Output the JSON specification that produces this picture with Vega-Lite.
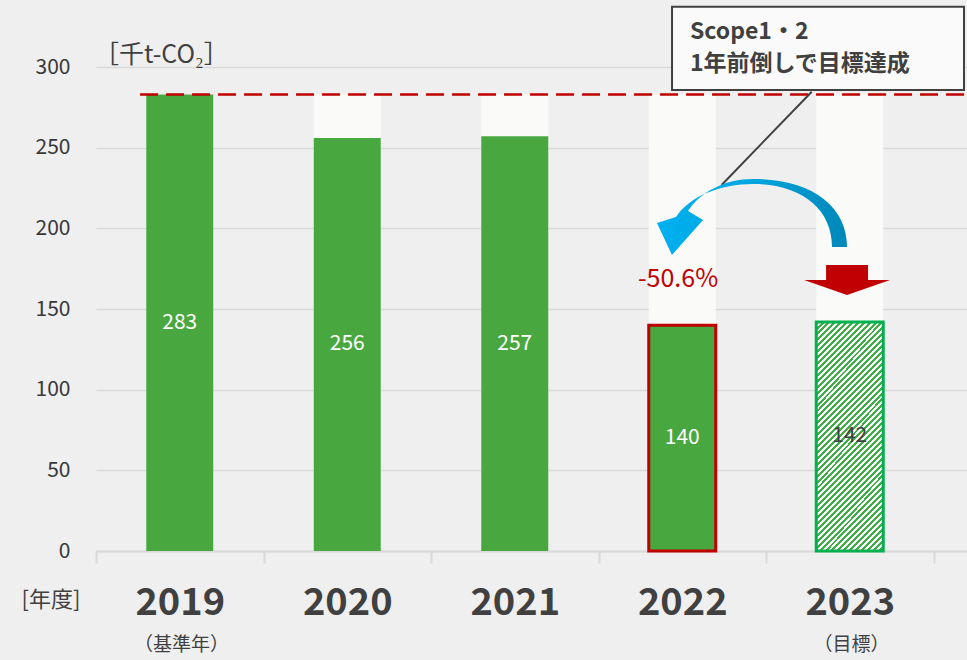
{
  "$schema": "https://vega.github.io/schema/vega-lite/v6.json",
  "width": 871,
  "height": 484,
  "autosize": {"type": "none"},
  "padding": {"left": 96, "top": 67, "right": 0, "bottom": 109},
  "background": "#efefef",
  "config": {"view": {"stroke": null}, "font": "Noto Sans CJK JP"},
  "datasets": {
    "co2": [
      {"year": "2019", "value": 283},
      {"year": "2020", "value": 256},
      {"year": "2021", "value": 257},
      {"year": "2022", "value": 140},
      {"year": "2023", "value": 142}
    ]
  },
  "layer": [
    {
      "data": {"name": "co2"},
      "encoding": {
        "x": {
          "field": "year", "type": "nominal", "sort": null,
          "scale": {"paddingInner": 0, "paddingOuter": 0.1, "align": 0},
          "axis": {
            "title": null, "labelAngle": 0, "labelFontSize": 38, "labelFontWeight": "bold",
            "labelColor": "#404040", "tickBand": "extent", "tickColor": "#d9d9d9", "tickSize": 12,
            "tickWidth": 2, "domainColor": "#d9d9d9", "domainWidth": 2, "labelPadding": 21, "grid": false
          }
        }
      },
      "layer": [
        {
          "mark": {"type": "bar", "width": {"band": 0.4}, "color": "#fafaf8"},
          "encoding": {
            "y": {
              "datum": 283, "type": "quantitative",
              "scale": {"domain": [0, 300], "nice": false},
              "axis": {
                "values": [0, 50, 100, 150, 200, 250, 300], "title": null, "domain": false, "ticks": false,
                "labelFontSize": 21, "labelColor": "#383838", "labelPadding": 26,
                "grid": true, "gridColor": "#d9d9d9", "gridWidth": 1.5
              }
            }
          }
        },
        {
          "transform": [{"filter": "datum.year != '2023'"}],
          "mark": {"type": "bar", "width": {"band": 0.4}, "fill": "#49a73f", "strokeWidth": 3},
          "encoding": {
            "y": {"field": "value", "type": "quantitative"},
            "stroke": {"condition": {"test": "datum.year == '2022'", "value": "#c00000"}, "value": null}
          }
        },
        {
          "transform": [{"filter": "datum.year == '2023'"}],
          "mark": {
            "type": "bar", "width": {"band": 0.4}, "stroke": "#00b050", "strokeWidth": 3,
            "fill": {
              "gradient": "linear", "x1": 0, "y1": 0, "x2": 0.35, "y2": 1.19,
              "stops": [
                {"offset": 0.00, "color": "#3fae49"}, {"offset": 0.01, "color": "#3fae49"}, {"offset": 0.01, "color": "#ffffff"}, {"offset": 0.02, "color": "#ffffff"},
                {"offset": 0.02, "color": "#3fae49"}, {"offset": 0.03, "color": "#3fae49"}, {"offset": 0.03, "color": "#ffffff"}, {"offset": 0.04, "color": "#ffffff"},
                {"offset": 0.04, "color": "#3fae49"}, {"offset": 0.05, "color": "#3fae49"}, {"offset": 0.05, "color": "#ffffff"}, {"offset": 0.06, "color": "#ffffff"},
                {"offset": 0.06, "color": "#3fae49"}, {"offset": 0.07, "color": "#3fae49"}, {"offset": 0.07, "color": "#ffffff"}, {"offset": 0.08, "color": "#ffffff"},
                {"offset": 0.08, "color": "#3fae49"}, {"offset": 0.09, "color": "#3fae49"}, {"offset": 0.09, "color": "#ffffff"}, {"offset": 0.10, "color": "#ffffff"},
                {"offset": 0.10, "color": "#3fae49"}, {"offset": 0.11, "color": "#3fae49"}, {"offset": 0.11, "color": "#ffffff"}, {"offset": 0.12, "color": "#ffffff"},
                {"offset": 0.12, "color": "#3fae49"}, {"offset": 0.13, "color": "#3fae49"}, {"offset": 0.13, "color": "#ffffff"}, {"offset": 0.14, "color": "#ffffff"},
                {"offset": 0.14, "color": "#3fae49"}, {"offset": 0.15, "color": "#3fae49"}, {"offset": 0.15, "color": "#ffffff"}, {"offset": 0.16, "color": "#ffffff"},
                {"offset": 0.16, "color": "#3fae49"}, {"offset": 0.17, "color": "#3fae49"}, {"offset": 0.17, "color": "#ffffff"}, {"offset": 0.18, "color": "#ffffff"},
                {"offset": 0.18, "color": "#3fae49"}, {"offset": 0.19, "color": "#3fae49"}, {"offset": 0.19, "color": "#ffffff"}, {"offset": 0.20, "color": "#ffffff"},
                {"offset": 0.20, "color": "#3fae49"}, {"offset": 0.21, "color": "#3fae49"}, {"offset": 0.21, "color": "#ffffff"}, {"offset": 0.22, "color": "#ffffff"},
                {"offset": 0.22, "color": "#3fae49"}, {"offset": 0.23, "color": "#3fae49"}, {"offset": 0.23, "color": "#ffffff"}, {"offset": 0.24, "color": "#ffffff"},
                {"offset": 0.24, "color": "#3fae49"}, {"offset": 0.25, "color": "#3fae49"}, {"offset": 0.25, "color": "#ffffff"}, {"offset": 0.26, "color": "#ffffff"},
                {"offset": 0.26, "color": "#3fae49"}, {"offset": 0.27, "color": "#3fae49"}, {"offset": 0.27, "color": "#ffffff"}, {"offset": 0.28, "color": "#ffffff"},
                {"offset": 0.28, "color": "#3fae49"}, {"offset": 0.29, "color": "#3fae49"}, {"offset": 0.29, "color": "#ffffff"}, {"offset": 0.30, "color": "#ffffff"},
                {"offset": 0.30, "color": "#3fae49"}, {"offset": 0.31, "color": "#3fae49"}, {"offset": 0.31, "color": "#ffffff"}, {"offset": 0.32, "color": "#ffffff"},
                {"offset": 0.32, "color": "#3fae49"}, {"offset": 0.33, "color": "#3fae49"}, {"offset": 0.33, "color": "#ffffff"}, {"offset": 0.34, "color": "#ffffff"},
                {"offset": 0.34, "color": "#3fae49"}, {"offset": 0.35, "color": "#3fae49"}, {"offset": 0.35, "color": "#ffffff"}, {"offset": 0.36, "color": "#ffffff"},
                {"offset": 0.36, "color": "#3fae49"}, {"offset": 0.37, "color": "#3fae49"}, {"offset": 0.37, "color": "#ffffff"}, {"offset": 0.38, "color": "#ffffff"},
                {"offset": 0.38, "color": "#3fae49"}, {"offset": 0.39, "color": "#3fae49"}, {"offset": 0.39, "color": "#ffffff"}, {"offset": 0.40, "color": "#ffffff"},
                {"offset": 0.40, "color": "#3fae49"}, {"offset": 0.41, "color": "#3fae49"}, {"offset": 0.41, "color": "#ffffff"}, {"offset": 0.42, "color": "#ffffff"},
                {"offset": 0.42, "color": "#3fae49"}, {"offset": 0.43, "color": "#3fae49"}, {"offset": 0.43, "color": "#ffffff"}, {"offset": 0.44, "color": "#ffffff"},
                {"offset": 0.44, "color": "#3fae49"}, {"offset": 0.45, "color": "#3fae49"}, {"offset": 0.45, "color": "#ffffff"}, {"offset": 0.46, "color": "#ffffff"},
                {"offset": 0.46, "color": "#3fae49"}, {"offset": 0.47, "color": "#3fae49"}, {"offset": 0.47, "color": "#ffffff"}, {"offset": 0.48, "color": "#ffffff"},
                {"offset": 0.48, "color": "#3fae49"}, {"offset": 0.49, "color": "#3fae49"}, {"offset": 0.49, "color": "#ffffff"}, {"offset": 0.50, "color": "#ffffff"},
                {"offset": 0.50, "color": "#3fae49"}, {"offset": 0.51, "color": "#3fae49"}, {"offset": 0.51, "color": "#ffffff"}, {"offset": 0.52, "color": "#ffffff"},
                {"offset": 0.52, "color": "#3fae49"}, {"offset": 0.53, "color": "#3fae49"}, {"offset": 0.53, "color": "#ffffff"}, {"offset": 0.54, "color": "#ffffff"},
                {"offset": 0.54, "color": "#3fae49"}, {"offset": 0.55, "color": "#3fae49"}, {"offset": 0.55, "color": "#ffffff"}, {"offset": 0.56, "color": "#ffffff"},
                {"offset": 0.56, "color": "#3fae49"}, {"offset": 0.57, "color": "#3fae49"}, {"offset": 0.57, "color": "#ffffff"}, {"offset": 0.58, "color": "#ffffff"},
                {"offset": 0.58, "color": "#3fae49"}, {"offset": 0.59, "color": "#3fae49"}, {"offset": 0.59, "color": "#ffffff"}, {"offset": 0.60, "color": "#ffffff"},
                {"offset": 0.60, "color": "#3fae49"}, {"offset": 0.61, "color": "#3fae49"}, {"offset": 0.61, "color": "#ffffff"}, {"offset": 0.62, "color": "#ffffff"},
                {"offset": 0.62, "color": "#3fae49"}, {"offset": 0.63, "color": "#3fae49"}, {"offset": 0.63, "color": "#ffffff"}, {"offset": 0.64, "color": "#ffffff"},
                {"offset": 0.64, "color": "#3fae49"}, {"offset": 0.65, "color": "#3fae49"}, {"offset": 0.65, "color": "#ffffff"}, {"offset": 0.66, "color": "#ffffff"},
                {"offset": 0.66, "color": "#3fae49"}, {"offset": 0.67, "color": "#3fae49"}, {"offset": 0.67, "color": "#ffffff"}, {"offset": 0.68, "color": "#ffffff"},
                {"offset": 0.68, "color": "#3fae49"}, {"offset": 0.69, "color": "#3fae49"}, {"offset": 0.69, "color": "#ffffff"}, {"offset": 0.70, "color": "#ffffff"},
                {"offset": 0.70, "color": "#3fae49"}, {"offset": 0.71, "color": "#3fae49"}, {"offset": 0.71, "color": "#ffffff"}, {"offset": 0.72, "color": "#ffffff"},
                {"offset": 0.72, "color": "#3fae49"}, {"offset": 0.73, "color": "#3fae49"}, {"offset": 0.73, "color": "#ffffff"}, {"offset": 0.74, "color": "#ffffff"},
                {"offset": 0.74, "color": "#3fae49"}, {"offset": 0.75, "color": "#3fae49"}, {"offset": 0.75, "color": "#ffffff"}, {"offset": 0.76, "color": "#ffffff"},
                {"offset": 0.76, "color": "#3fae49"}, {"offset": 0.77, "color": "#3fae49"}, {"offset": 0.77, "color": "#ffffff"}, {"offset": 0.78, "color": "#ffffff"},
                {"offset": 0.78, "color": "#3fae49"}, {"offset": 0.79, "color": "#3fae49"}, {"offset": 0.79, "color": "#ffffff"}, {"offset": 0.80, "color": "#ffffff"},
                {"offset": 0.80, "color": "#3fae49"}, {"offset": 0.81, "color": "#3fae49"}, {"offset": 0.81, "color": "#ffffff"}, {"offset": 0.82, "color": "#ffffff"},
                {"offset": 0.82, "color": "#3fae49"}, {"offset": 0.83, "color": "#3fae49"}, {"offset": 0.83, "color": "#ffffff"}, {"offset": 0.84, "color": "#ffffff"},
                {"offset": 0.84, "color": "#3fae49"}, {"offset": 0.85, "color": "#3fae49"}, {"offset": 0.85, "color": "#ffffff"}, {"offset": 0.86, "color": "#ffffff"},
                {"offset": 0.86, "color": "#3fae49"}, {"offset": 0.87, "color": "#3fae49"}, {"offset": 0.87, "color": "#ffffff"}, {"offset": 0.88, "color": "#ffffff"},
                {"offset": 0.88, "color": "#3fae49"}, {"offset": 0.89, "color": "#3fae49"}, {"offset": 0.89, "color": "#ffffff"}, {"offset": 0.90, "color": "#ffffff"},
                {"offset": 0.90, "color": "#3fae49"}, {"offset": 0.91, "color": "#3fae49"}, {"offset": 0.91, "color": "#ffffff"}, {"offset": 0.92, "color": "#ffffff"},
                {"offset": 0.92, "color": "#3fae49"}, {"offset": 0.93, "color": "#3fae49"}, {"offset": 0.93, "color": "#ffffff"}, {"offset": 0.94, "color": "#ffffff"},
                {"offset": 0.94, "color": "#3fae49"}, {"offset": 0.95, "color": "#3fae49"}, {"offset": 0.95, "color": "#ffffff"}, {"offset": 0.96, "color": "#ffffff"},
                {"offset": 0.96, "color": "#3fae49"}, {"offset": 0.97, "color": "#3fae49"}, {"offset": 0.97, "color": "#ffffff"}, {"offset": 0.98, "color": "#ffffff"},
                {"offset": 0.98, "color": "#3fae49"}, {"offset": 0.99, "color": "#3fae49"}, {"offset": 0.99, "color": "#ffffff"}, {"offset": 1.00, "color": "#ffffff"}
              ]
            }
          },
          "encoding": {"y": {"field": "value", "type": "quantitative"}}
        },
        {
          "transform": [{"calculate": "datum.value / 2", "as": "mid"}],
          "mark": {"type": "text", "fontSize": 21, "baseline": "middle"},
          "encoding": {
            "y": {"field": "mid", "type": "quantitative"},
            "text": {"field": "value", "type": "quantitative"},
            "color": {"condition": {"test": "datum.year == '2023'", "value": "#404040"}, "value": "#ffffff"}
          }
        }
      ]
    },
    {
      "data": {"values": [{}]},
      "layer": [
        {
          "mark": {"type": "rule", "color": "#c00000", "strokeWidth": 2.5, "strokeDash": [18, 8]},
          "encoding": {
            "x": {"datum": 0.263, "type": "quantitative", "scale": {"domain": [0, 5.2], "nice": false, "zero": false}, "axis": null},
            "x2": {"datum": 5.2},
            "y": {"datum": 283, "type": "quantitative", "scale": {"domain": [0, 300], "nice": false}}
          }
        },
        {
          "mark": {"type": "rule", "color": "#404040", "strokeWidth": 2},
          "encoding": {
            "x": {"datum": 4.273, "type": "quantitative", "scale": {"domain": [0, 5.2], "nice": false, "zero": false}, "axis": null},
            "x2": {"datum": 3.735},
            "y": {"datum": 284.7, "type": "quantitative", "scale": {"domain": [0, 300], "nice": false}},
            "y2": {"datum": 226.9}
          }
        },
        {
          "mark": {
            "type": "point", "filled": true, "opacity": 1, "strokeWidth": 0, "size": 40000,
            "shape": "M1.648,0.186C1.648,-0.234,1.278,-0.494,0.708,-0.494C0.428,-0.494,0.178,-0.364,0.058,-0.174L0.208,-0.084L-0.103,0.266L-0.253,-0.054L-0.063,-0.114C0.078,-0.324,0.378,-0.444,0.708,-0.444C1.178,-0.444,1.498,-0.204,1.498,0.186Z",
            "fill": {
              "gradient": "linear", "x1": 0, "y1": 0, "x2": 1, "y2": 0,
              "stops": [
                {"offset": 0, "color": "#00b0f0"},
                {"offset": 0.5, "color": "#00a6e0"},
                {"offset": 1, "color": "#0087b8"}
              ]
            }
          },
          "encoding": {
            "x": {"datum": 3.5, "type": "quantitative", "scale": {"domain": [0, 5.2], "nice": false, "zero": false}, "axis": null},
            "y": {"datum": 200, "type": "quantitative", "scale": {"domain": [0, 300], "nice": false}}
          }
        },
        {
          "mark": {
            "type": "point", "filled": true, "opacity": 1, "strokeWidth": 0, "size": 7396, "fill": "#c00000",
            "shape": "M-0.488,-0.349L0.488,-0.349L0.488,0L1,0L0,0.349L-1,0L-0.488,0Z"
          },
          "encoding": {
            "x": {"datum": 4.484, "type": "quantitative", "scale": {"domain": [0, 5.2], "nice": false, "zero": false}, "axis": null},
            "y": {"datum": 168, "type": "quantitative", "scale": {"domain": [0, 300], "nice": false}}
          }
        },
        {
          "mark": {"type": "text", "text": "-50.6%", "fontSize": 25, "color": "#c00000", "baseline": "middle", "align": "center"},
          "encoding": {
            "x": {"datum": 3.475, "type": "quantitative", "scale": {"domain": [0, 5.2], "nice": false, "zero": false}, "axis": null},
            "y": {"datum": 168.6, "type": "quantitative", "scale": {"domain": [0, 300], "nice": false}}
          }
        },
        {
          "mark": {"type": "rect", "fill": "#fafafa", "stroke": "#404040", "strokeWidth": 2},
          "encoding": {
            "x": {"datum": 3.439, "type": "quantitative", "scale": {"domain": [0, 5.2], "nice": false, "zero": false}, "axis": null},
            "x2": {"datum": 5.182},
            "y": {"datum": 337.3, "type": "quantitative", "scale": {"domain": [0, 300], "nice": false}},
            "y2": {"datum": 285.8}
          }
        },
        {
          "mark": {"type": "text", "text": "Scope1・2", "fontSize": 23, "fontWeight": "bold", "color": "#404040", "baseline": "middle", "align": "left"},
          "encoding": {
            "x": {"datum": 3.546, "type": "quantitative", "scale": {"domain": [0, 5.2], "nice": false, "zero": false}, "axis": null},
            "y": {"datum": 321.8, "type": "quantitative", "scale": {"domain": [0, 300], "nice": false}}
          }
        },
        {
          "mark": {"type": "text", "text": "1年前倒しで目標達成", "fontSize": 23, "fontWeight": "bold", "color": "#404040", "baseline": "middle", "align": "left"},
          "encoding": {
            "x": {"datum": 3.546, "type": "quantitative", "scale": {"domain": [0, 5.2], "nice": false, "zero": false}, "axis": null},
            "y": {"datum": 301.9, "type": "quantitative", "scale": {"domain": [0, 300], "nice": false}}
          }
        },
        {
          "mark": {"type": "text", "text": "（基準年）", "fontSize": 19, "color": "#404040", "baseline": "middle", "align": "center"},
          "encoding": {
            "x": {"datum": 0.51, "type": "quantitative", "scale": {"domain": [0, 5.2], "nice": false, "zero": false}, "axis": null},
            "y": {"datum": -58.3, "type": "quantitative", "scale": {"domain": [0, 300], "nice": false}}
          }
        },
        {
          "mark": {"type": "text", "text": "（目標）", "fontSize": 19, "color": "#404040", "baseline": "middle", "align": "center"},
          "encoding": {
            "x": {"datum": 4.51, "type": "quantitative", "scale": {"domain": [0, 5.2], "nice": false, "zero": false}, "axis": null},
            "y": {"datum": -58.3, "type": "quantitative", "scale": {"domain": [0, 300], "nice": false}}
          }
        },
        {
          "mark": {"type": "text", "text": "[年度]", "fontSize": 22, "color": "#404040", "baseline": "middle", "align": "center"},
          "encoding": {
            "x": {"datum": -0.269, "type": "quantitative", "scale": {"domain": [0, 5.2], "nice": false, "zero": false}, "axis": null},
            "y": {"datum": -30.4, "type": "quantitative", "scale": {"domain": [0, 300], "nice": false}}
          }
        },
        {
          "mark": {"type": "text", "text": "［千t-CO₂］", "fontSize": 25, "color": "#404040", "baseline": "middle", "align": "center"},
          "encoding": {
            "x": {"datum": 0.39, "type": "quantitative", "scale": {"domain": [0, 5.2], "nice": false, "zero": false}, "axis": null},
            "y": {"datum": 307.5, "type": "quantitative", "scale": {"domain": [0, 300], "nice": false}}
          }
        }
      ]
    }
  ],
  "resolve": {"scale": {"x": "independent"}, "axis": {"x": "independent"}}
}
